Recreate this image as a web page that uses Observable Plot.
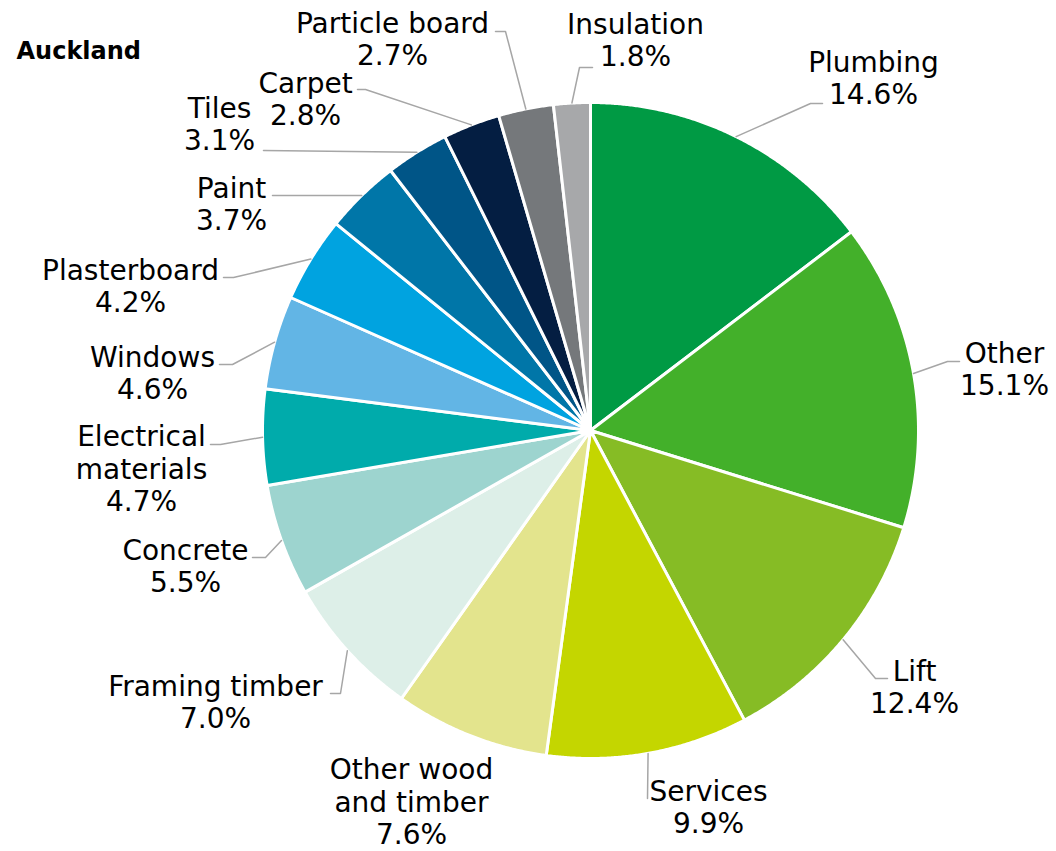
<!DOCTYPE html>
<html><head><meta charset="utf-8">
<script src="https://cdn.jsdelivr.net/npm/d3@7"></script>
<script src="https://cdn.jsdelivr.net/npm/@observablehq/plot@0.6"></script>
<style>body{margin:0;background:#fff} svg{display:block}</style>
</head><body><div id="chart"></div>
<script>
// ---- data ----
const title = "Auckland";
const categories = ["Plumbing","Other","Lift","Services","Other wood and timber","Framing timber","Concrete","Electrical materials","Windows","Plasterboard","Paint","Tiles","Carpet","Particle board","Insulation"];
const values = [14.6,15.1,12.4,9.9,7.6,7.0,5.5,4.7,4.6,4.2,3.7,3.1,2.8,2.7,1.8];
const colors = ["#009a44","#43b02a","#86bc25","#c4d600","#e3e48d","#ddefe8","#9dd4cf","#00abab","#62b5e5","#00a3e0","#0076a8","#005587","#041e42","#75787b","#a7a8aa"];
const labelNames = ["Plumbing","Other","Lift","Services","Other wood\nand timber","Framing timber","Concrete","Electrical\nmaterials","Windows","Plasterboard","Paint","Tiles","Carpet","Particle board","Insulation"];

// ---- layout (pixels) ----
const CX = 590, CY = 430, R = 328;
const labelPos = [[873,77],[1004,368],[914,686],[708,806],[411,801],[215,701],[185,565],[141,468],[152,372],[130,285],[231,203],[219,123],[305,98],[392,38],[635,39]];
const leaderPts = [
  [[810,103],[822,103]],
  [[947,361],[959,361]],
  [[875,678],[887,678]],
  [[647,798]],
  null,
  [[340,693],[330,693]],
  [[265,557],[252,557]],
  [[220,444],[210,444]],
  [[232,364],[219,364]],
  [[233,277],[223,277]],
  [[272,195]],
  [[263,150]],
  [[365,89],[357,89]],
  [[505,31],[495,31]],
  [[579,67],[592,67]]
];

// ---- geometry ----
const total = d3.sum(values);
const pt = (a, r) => [r * Math.sin(a), -r * Math.cos(a)];
let acc = 0;
const slices = categories.map((name, i) => {
  const a0 = acc / total * 2 * Math.PI;
  acc += values[i];
  const a1 = acc / total * 2 * Math.PI;
  const n = Math.max(2, Math.ceil((a1 - a0) / (Math.PI / 720)));
  const ring = [[0, 0]];
  for (let k = 0; k <= n; k++) ring.push(pt(a0 + (a1 - a0) * k / n, R));
  ring.push([0, 0]);
  return {type: "Feature", properties: {name, mid: (a0 + a1) / 2}, geometry: {type: "Polygon", coordinates: [ring]}};
});
const leaders = slices.map((s, i) => {
  if (!leaderPts[i]) return null;
  const coords = [pt(s.properties.mid, R), ...leaderPts[i].map(([x, y]) => [x - CX, y - CY])];
  return {type: "Feature", properties: {}, geometry: {type: "LineString", coordinates: coords}};
}).filter(d => d);
const labels = categories.map((c, i) => ({
  x: labelPos[i][0] - CX, y: labelPos[i][1] - CY,
  text: labelNames[i] + "\n" + values[i].toFixed(1) + "%"
}));

const chart = Plot.plot({
  width: 1056, height: 851, margin: 0,
  projection: d3.geoIdentity().translate([CX, CY]),
  color: {domain: categories, range: colors},
  style: {fontFamily: "DejaVu Sans", background: "white"},
  marks: [
    Plot.geo(slices, {fill: d => d.properties.name, stroke: "white", strokeWidth: 3, strokeLinejoin: "round"}),
    Plot.geo(leaders, {fill: "none", stroke: "#a6a6a6", strokeWidth: 1.5}),
    Plot.text(labels, {x: "x", y: "y", text: "text", fontSize: 28, lineHeight: 1.16, fill: "black"}),
    Plot.text([title], {x: 16 - CX, y: 51 - CY, text: d => d, textAnchor: "start", fontWeight: "bold", fontSize: 24, fill: "black"})
  ]
});
document.getElementById("chart").appendChild(chart);
</script></body></html>
